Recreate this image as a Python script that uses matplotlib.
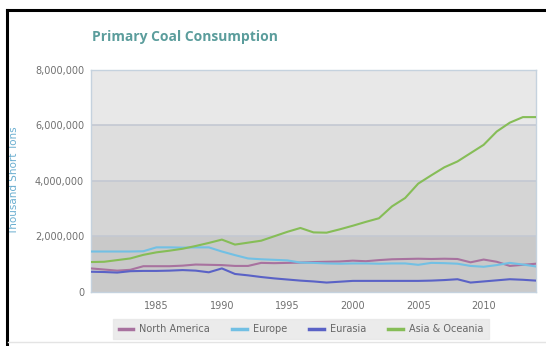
import matplotlib
matplotlib.use('Agg')
import matplotlib.pyplot as plt
from matplotlib.lines import Line2D
from matplotlib.ticker import FuncFormatter

years = list(range(1980, 2015))

# thousand short tons
north_america = [0.84, 0.80, 0.76, 0.79, 0.92, 0.92, 0.92, 0.94, 0.98, 0.97,
                 0.96, 0.93, 0.93, 1.04, 1.03, 1.04, 1.05, 1.07, 1.08, 1.09,
                 1.12, 1.10, 1.14, 1.17, 1.18, 1.19, 1.18, 1.19, 1.18, 1.06,
                 1.16, 1.08, 0.93, 0.97, 1.01]
europe = [1.45, 1.45, 1.45, 1.45, 1.46, 1.60, 1.60, 1.59, 1.60, 1.60,
          1.45, 1.32, 1.20, 1.17, 1.15, 1.13, 1.05, 1.04, 1.02, 1.01,
          1.02, 1.02, 1.01, 1.02, 1.02, 0.97, 1.04, 1.03, 1.01, 0.93,
          0.90, 0.96, 1.04, 0.98, 0.91]
eurasia = [0.72, 0.71, 0.69, 0.74, 0.75, 0.75, 0.76, 0.78, 0.76, 0.70,
           0.84, 0.64, 0.59, 0.53, 0.48, 0.44, 0.40, 0.37, 0.33, 0.36,
           0.39, 0.39, 0.39, 0.39, 0.39, 0.39, 0.40, 0.42, 0.45, 0.33,
           0.37, 0.41, 0.45, 0.43, 0.40]
asia_oceania = [1.07, 1.08, 1.14, 1.20, 1.33, 1.42, 1.48, 1.55, 1.65, 1.76,
                1.88, 1.70, 1.77, 1.84, 2.00, 2.16, 2.30, 2.14, 2.13, 2.25,
                2.38, 2.52, 2.65, 3.08, 3.38, 3.90, 4.20, 4.49, 4.70, 5.00,
                5.30, 5.78, 6.10, 6.30, 6.30]

series = [
    ('North America', north_america, '#a8729f'),
    ('Europe', europe, '#72c0e4'),
    ('Eurasia', eurasia, '#5a62c6'),
    ('Asia & Oceania', asia_oceania, '#86bd57'),
]

x_ticks = [1985, 1990, 1995, 2000, 2005, 2010]
y_ticks = [0, 2000000, 4000000, 6000000, 8000000]

W, H = 546, 346
fig = plt.figure(figsize=(W / 100, H / 100), dpi=100)
fig.patch.set_facecolor('white')
ax = fig.add_axes([91 / W, 1 - 291.7 / H, 445 / W, 221.7 / H])

# shaded bands between gridlines, darker toward the bottom
bands = ['#c9c9c9', '#d5d5d5', '#dedede', '#e8e8e8']
for i, c in enumerate(bands):
    ax.axhspan(y_ticks[i], y_ticks[i + 1], color=c, lw=0, zorder=0)
for yv in y_ticks[1:-1]:
    ax.axhline(yv, color='#c3c8d2', lw=1.2, zorder=1)

for name, vals, col in series:
    ax.plot(years, [v * 1e6 for v in vals], color=col, lw=1.5, label=name, zorder=3)

ax.set_xlim(1980, 2014)
ax.set_ylim(0, 8000000)
ax.set_xticks(x_ticks)
ax.set_yticks(y_ticks)
ax.yaxis.set_major_formatter(FuncFormatter(lambda v, p: f'{int(v):,}'))
ax.tick_params(axis='y', length=0, labelsize=7, colors='#707070', pad=5)
ax.tick_params(axis='x', length=0, labelsize=7, colors='#707070', pad=7)
for s in ax.spines.values():
    s.set_color('#c5d2de')
    s.set_linewidth(1)

ax.set_ylabel('Thousand Short Tons', color='#6aaed0', fontsize=7.5)
ax.yaxis.set_label_coords((19 - 91) / 445, 0.5)

fig.text(92 / W, 1 - 37 / H, 'Primary Coal Consumption', color='#5b9d9c',
         fontsize=10, fontweight='bold', family='Open Sans', va='center')

leg = fig.legend(loc='center', bbox_to_anchor=(301 / W, 1 - 329 / H), ncol=4,
                 frameon=True, fancybox=False, fontsize=7, handlelength=1.5,
                 handletextpad=0.6, columnspacing=2.3, borderpad=0.55)
leg.get_frame().set_facecolor('#e6e6e6')
leg.get_frame().set_edgecolor('#e6e6e6')
for t in leg.get_texts():
    t.set_color('#666666')
for h in leg.get_lines():
    h.set_linewidth(2.5)

# outer frame
fig.add_artist(Line2D([7 / W, 1], [1 - 10 / H, 1 - 10 / H], color='black', lw=2.2,
                      transform=fig.transFigure))
fig.add_artist(Line2D([7 / W, 7 / W], [0, 1 - 10 / H], color='black', lw=2.2,
                      transform=fig.transFigure))
fig.add_artist(Line2D([8 / W, 1], [1 - 342 / H, 1 - 342 / H], color='#e4e4e4', lw=1,
                      transform=fig.transFigure))

fig.savefig('out.png', dpi=100)
